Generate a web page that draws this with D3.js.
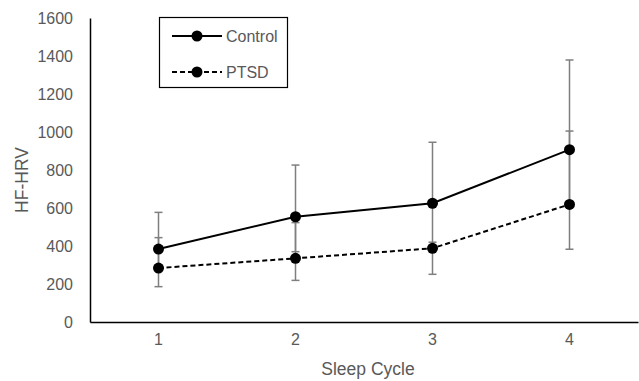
<!DOCTYPE html>
<html><head><meta charset="utf-8">
<script src="https://cdn.jsdelivr.net/npm/d3@7"></script>
<style>body{margin:0;background:#fff}svg{display:block}text{font-family:"Liberation Sans",Arial,sans-serif}</style>
</head><body>
<svg id="c" width="639" height="381"></svg>
<script>
const categories = ["1","2","3","4"];
const controlValues = [384, 554, 625, 907];
const ptsdValues = [284, 335, 388, 619];
const controlErrLow = [186, 219, 251, 383];
const controlErrHigh = [577, 826, 946, 1379];
const ptsdErrLow = [284, 370, 388, 619];
const ptsdErrHigh = [444, 523, 420, 1005];
const yTicks = [0,200,400,600,800,1000,1200,1400,1600];
const seriesNames = ["Control","PTSD"];

(function(){
const svg = d3.select("#c");
const mLeft = 90, mRight = 638, mTop = 18, mBottom = 322;
const x = d3.scaleBand().domain(categories).range([mLeft, mRight]);
const y = d3.scaleLinear().domain([0,1600]).range([mBottom, mTop]);
const cx = c => x(c) + x.bandwidth()/2;
const fontF = "Liberation Sans, Arial, sans-serif";

// y axis
const yAxis = d3.axisLeft(y).tickValues(yTicks).tickFormat(d3.format("d")).tickSize(0).tickPadding(17);
const gy = svg.append("g").attr("transform",`translate(${mLeft},0)`).call(yAxis);
gy.select(".domain").attr("stroke","#000").attr("stroke-width",1.5);
gy.selectAll("text").attr("font-size",16).attr("fill","#595959").attr("font-family",fontF);

// x axis
const xAxis = d3.axisBottom(x).tickSize(0).tickPadding(12);
const gx = svg.append("g").attr("transform",`translate(0,${mBottom})`).call(xAxis);
gx.select(".domain").attr("stroke","#000").attr("stroke-width",1.5);
gx.selectAll("text").attr("font-size",16).attr("fill","#595959").attr("font-family",fontF);

// titles
svg.append("text").attr("x",368).attr("y",375).attr("text-anchor","middle")
  .attr("font-size",17.5).attr("fill","#595959").text("Sleep Cycle");
svg.append("text").attr("transform",`translate(28,180) rotate(-90)`).attr("text-anchor","middle")
  .attr("font-size",17.5).attr("fill","#595959").text("HF-HRV");

// error bars
function errBars(lo, hi){
  const g = svg.append("g").attr("stroke","#7f7f7f").attr("stroke-width",1.5);
  categories.forEach((c,i)=>{
    g.append("line").attr("x1",cx(c)).attr("x2",cx(c)).attr("y1",y(lo[i])).attr("y2",y(hi[i]));
    [lo[i],hi[i]].forEach(v=>g.append("line").attr("x1",cx(c)-4).attr("x2",cx(c)+4).attr("y1",y(v)).attr("y2",y(v)));
  });
}
errBars(controlErrLow, controlErrHigh);
errBars(ptsdErrLow, ptsdErrHigh);

const line = d3.line().x((d,i)=>cx(categories[i])).y(d=>y(d));
function series(vals, dash){
  svg.append("path").datum(vals).attr("d",line).attr("fill","none").attr("stroke","#000")
    .attr("stroke-width",2).attr("stroke-dasharray",dash);
  svg.append("g").selectAll("circle").data(vals).join("circle")
    .attr("cx",(d,i)=>cx(categories[i])).attr("cy",d=>y(d)).attr("r",5.5).attr("fill","#000");
}
series(controlValues, null);
series(ptsdValues, "5,3");

// legend
const lg = svg.append("g");
lg.append("rect").attr("x",159.5).attr("y",17.5).attr("width",128).attr("height",70)
  .attr("fill","#fff").attr("stroke","#000").attr("stroke-width",1.2);
seriesNames.forEach((n,i)=>{
  const yy = 36 + i*36;
  lg.append("line").attr("x1",172).attr("x2",222).attr("y1",yy).attr("y2",yy).attr("stroke","#000")
    .attr("stroke-width",2).attr("stroke-dasharray", i ? "5,3" : null);
  lg.append("circle").attr("cx",197).attr("cy",yy).attr("r",5.5).attr("fill","#000");
  lg.append("text").attr("x",226).attr("y",yy+5.5).attr("font-size",16).attr("fill","#595959").text(n);
});
})();
</script>
</body></html>
